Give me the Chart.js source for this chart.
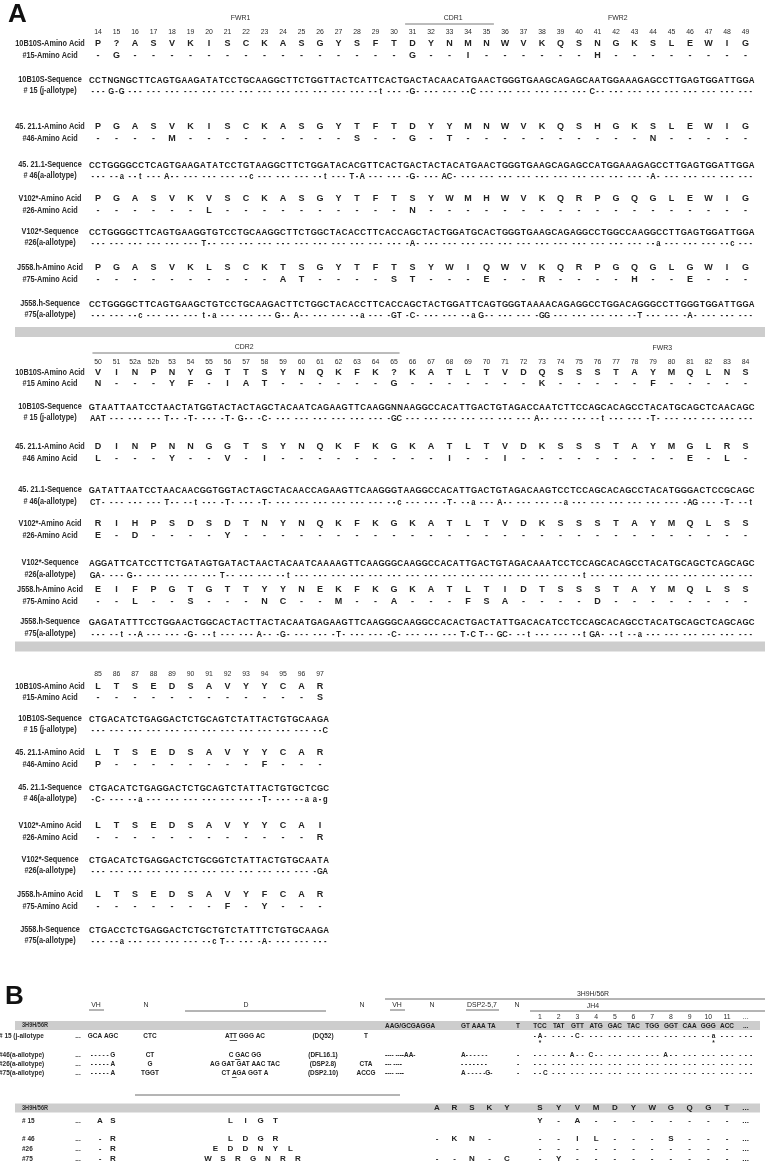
<!DOCTYPE html>
<html>
<head>
<meta charset="utf-8">
<script src="https://cdn.jsdelivr.net/npm/chart.js@4.4.1/dist/chart.umd.min.js"></script>
<style>
  html, body { margin: 0; padding: 0; background: #fff; }
  canvas { display: block; }
</style>
</head>
<body>
<canvas id="fig" width="765" height="1171"></canvas>
<script>
// ---------- panel A, block 1 : Kabat 14-49 ----------
const pos1 = ['14','15','16','17','18','19','20','21','22','23','24','25','26','27','28','29','30','31',
              '32','33','34','35','36','37','38','39','40','41','42','43','44','45','46','47','48','49'];
const aa1_10B10S = 'P?ASVKISCKASGYSF' + 'TDYNMNWVKQSNGKSLEWIG';
const aa1_15     = '-G--------------' + '-G--I------H--------';
const aa1_45211  = 'PGASVKISCKASGYTF' + 'TDYYMNWVKQSHGKSLEWIG';
const aa1_46     = '----M---------S-' + '-G-T----------N-----';
const aa1_V102   = 'PGASVKVSCKASGYTF' + 'TSYWMHWVKQRPGQGLEWIG';
const aa1_26     = '------L---------' + '-N------------------';
const aa1_J558   = 'PGASVKLSCKTSGYTF' + 'TSYWIQWVKQRPGQGLGWIG';
const aa1_75     = '----------AT----' + 'ST---E--R----H--E---';

const nt1_10B10S = 'CCT NGN GCT TCA GTG AAG ATA TCC TGC AAG GCT TCT GGT TAC TCA TTC ' +
                   'ACT GAC TAC AAC ATG AAC TGG GTG AAG CAG AGC AAT GGA AAG AGC CTT GAG TGG ATT GGA';
const nt1_15     = '--- G-G --- --- --- --- --- --- --- --- --- --- --- --- --- --t ' +
                   '--- -G- --- --- --C --- --- --- --- --- --- C-- --- --- --- --- --- --- --- ---';
const nt1_45211  = 'CCT GGG GCC TCA GTG AAG ATA TCC TGT AAG GCT TCT GGA TAC ACG TTC ' +
                   'ACT GAC TAC TAC ATG AAC TGG GTG AAG CAG AGC CAT GGA AAG AGC CTT GAG TGG ATT GGA';
const nt1_46     = '--- --a --t --- A-- --- --- --- --c --- --- --- --t --- T-A --- ' +
                   '--- -G- --- AC- --- --- --- --- --- --- --- --- --- --- -A- --- --- --- --- ---';
const nt1_V102   = 'CCT GGG GCT TCA GTG AAG GTG TCC TGC AAG GCT TCT GGC TAC ACC TTC ' +
                   'ACC AGC TAC TGG ATG CAC TGG GTG AAG CAG AGG CCT GGC CAA GGC CTT GAG TGG ATT GGA';
const nt1_26     = '--- --- --- --- --- --- T-- --- --- --- --- --- --- --- --- --- ' +
                   '--- -A- --- --- --- --- --- --- --- --- --- --- --- --- --a --- --- --- --c ---';
const nt1_J558   = 'CCT GGG GCT TCA GTG AAG CTG TCC TGC AAG ACT TCT GGC TAC ACC TTC ' +
                   'ACC AGC TAC TGG ATT CAG TGG GTA AAA CAG AGG CCT GGA CAG GGC CTT GGG TGG ATT GGA';
const nt1_75     = '--- --- --c --- --- --- t-a --- --- --- G-- A-- --- --- --a --- ' +
                   '-GT -C- --- --- --a G-- --- --- -GG --- --- --- --- --T --- --- -A- --- --- ---';

// ---------- panel A, block 2 : Kabat 50-84 ----------
const pos2 = ['50','51','52a','52b','53','54','55','56','57','58','59','60','61','62','63','64','65','66',
              '67','68','69','70','71','72','73','74','75','76','77','78','79','80','81','82','83','84'];
const aa2_10B10S = 'VINPNYGTTSYNQKFK' + '?KATLTVDQSSSTAYMQLNS';
const aa2_15     = 'N---YF-IAT------' + 'G-------K-----F-----';
const aa2_45211  = 'DINPNNGGTSYNQKFK' + 'GKATLTVDKSSSTAYMGLRS';
const aa2_46     = 'L---Y--V-I------' + '---I--I---------E-L-';
const aa2_V102   = 'RIHPSDSDTNYNQKFK' + 'GKATLTVDKSSSTAYMQLSS';
const aa2_26     = 'E-D----Y--------' + '--------------------';
const aa2_J558   = 'EIFPGTGTTYYNEKFK' + 'GKATLTIDTSSSTAYMQLSS';
const aa2_75     = '--L--S---NC--M--' + 'A---FSA----D--------';

const nt2_10B10S = 'GTA ATT AAT CCT AAC TAT GGT ACT ACT AGC TAC AAT CAG AAG TTC AAG ' +
                   'GNN AAG GCC ACA TTG ACT GTA GAC CAA TCT TCC AGC ACA GCC TAC ATG CAG CTC AAC AGC';
const nt2_15     = 'AAT --- --- --- T-- -T- --- -T- G-- -C- --- --- --- --- --- --- ' +
                   '-GC --- --- --- --- --- --- --- A-- --- --- --t --- --- -T- --- --- --- --- ---';
const nt2_45211  = 'GAT ATT AAT CCT AAC AAC GGT GGT ACT AGC TAC AAC CAG AAG TTC AAG ' +
                   'GGT AAG GCC ACA TTG ACT GTA GAC AAG TCC TCC AGC ACA GCC TAC ATG GGA CTC CGC AGC';
const nt2_46     = 'CT- --- --- --- T-- --t --- -T- --- -T- --- --- --- --- --- --- ' +
                   '--c --- --- -T- --a --- A-- --- --- --a --- --- --- --- --- --- -AG --- -T- --t';
const nt2_V102   = 'AGG ATT CAT CCT TCT GAT AGT GAT ACT AAC TAC AAT CAA AAG TTC AAG ' +
                   'GGC AAG GCC ACA TTG ACT GTA GAC AAA TCC TCC AGC ACA GCC TAC ATG CAG CTC AGC AGC';
const nt2_26     = 'GA- --- G-- --- --- --- --- T-- --- --- --t --- --- --- --- --- ' +
                   '--- --- --- --- --- --- --- --- --- --- --t --- --- --- --- --- --- --- --- ---';
const nt2_J558   = 'GAG ATA TTT CCT GGA ACT GGC ACT ACT TAC TAC AAT GAG AAG TTC AAG ' +
                   'GGC AAG GCC ACA CTG ACT ATT GAC ACA TCC TCC AGC ACA GCC TAC ATG CAG CTC AGC AGC';
const nt2_75     = '--- --t --A --- --- -G- --t --- --- A-- -G- --- --- -T- --- --- ' +
                   '-C- --- --- --- T-C T-- GC- --t --- --- --t GA- --t --a --- --- --- --- --- ---';

// ---------- panel A, block 3 : Kabat 85-97 ----------
const pos3 = ['85','86','87','88','89','90','91','92','93','94','95','96','97'];
const aa3_10B10S = 'LTSEDSAVYYCAR';
const aa3_15     = '------------S';
const aa3_45211  = 'LTSEDSAVYYCAR';
const aa3_46     = 'P--------F---';
const aa3_V102   = 'LTSEDSAVYYCAI';
const aa3_26     = '------------R';
const aa3_J558   = 'LTSEDSAVYFCAR';
const aa3_75     = '-------F-Y---';

const nt3_10B10S = 'CTG ACA TCT GAG GAC TCT GCA GTC TAT TAC TGT GCA AGA';
const nt3_15     = '--- --- --- --- --- --- --- --- --- --- --- --- --C';
const nt3_45211  = 'CTG ACA TCT GAG GAC TCT GCA GTC TAT TAC TGT GCT CGC';
const nt3_46     = '-C- --- --a --- --- --- --- --- --- -T- --- --a a-g';
const nt3_V102   = 'CTG ACA TCT GAG GAC TCT GCG GTC TAT TAC TGT GCA ATA';
const nt3_26     = '--- --- --- --- --- --- --- --- --- --- --- --- -GA';
const nt3_J558   = 'CTG ACC TCT GAG GAC TCT GCT GTC TAT TTC TGT GCA AGA';
const nt3_75     = '--- --a --- --- --- --- --c T-- --- -A- --- --- ---';

const rowNames  = ['10B10S-Amino Acid', '#15-Amino Acid', '10B10S-Sequence', '# 15 (j-allotype)',
                   '45. 21.1-Amino Acid', '#46-Amino Acid', '45. 21.1-Sequence', '# 46(a-allotype)',
                   'V102*-Amino Acid', '#26-Amino Acid', 'V102*-Sequence', '#26(a-allotype)',
                   'J558.h-Amino Acid', '#75-Amino Acid', 'J558.h-Sequence', '#75(a-allotype)'];
const rowNames2 = ['10B10S-Amino Acid', '#15 Amino Acid', '10B10S-Sequence', '# 15 (j-allotype)',
                   '45. 21.1-Amino Acid', '#46 Amino Acid', '45. 21.1-Sequence', '# 46(a-allotype)',
                   'V102*-Amino Acid', '#26-Amino Acid', 'V102*-Sequence', '#26(a-allotype)',
                   'J558.h-Amino Acid', '#75-Amino Acid', 'J558.h-Sequence', '#75(a-allotype)'];

// ---------- panel B : CDR3 / JH4 ----------
const bTopNames = ['# 15 (j-allotype', '#46(a-allotype)', '#26(a-allotype)', '#75(a-allotype)'];
const bVH    = ['GCA AGC', '- - - - - G', '- - - - - A', '- - - - - A'];
const bN1    = ['CTC', 'CT', 'G', 'TGGT'];
const bD     = ['ATT GGG AC', 'C GAC GG', 'AG GAT GAT AAC TAC', 'CT AGA GGT A'];
const bDUnder = [[1, 2], [2, 2], null, [3, 3]];
const bDGene = ['(DQ52)', '(DFL16.1)', '(DSP2.8)', '(DSP2.10)'];
const bN2    = ['T', '', 'CTA', 'ACCG'];
const bRefVHN = 'AAG/GCGAGGA', bRefDSP = 'GT AAA TA', bRefN = 'T';
const bVHN   = ['', '---- ----AA-', '--- ----', '---- ----'];
const bDSP   = ['', 'A- - - - - -', '- - - - - - -', 'A - - - - -G-'];
const bNr    = ['', '-', '-', '-'];
const jhNum  = ['1','2','3','4','5','6','7','8','9','10','11','...'];
const jhRef  = ['TCC','TAT','GTT','ATG','GAC','TAC','TGG','GGT','CAA','GGG','ACC','...'];
const jh15   = ['-A-','---','-C-','---','---','---','---','---','---','--a','---','---'];
const jh46   = ['---','---','A--','C--','---','---','---','A--','---','---','---','---'];
const jh26   = ['---','---','---','---','---','---','---','---','---','---','---','---'];
const jh75   = ['--C','---','---','---','---','---','---','---','---','---','---','---'];
const jhStarCodon = [0, 9], jhStarNt = [1, 2];

const bAANames  = ['# 15', '# 46', '#26', '#75'];
const bAAvh     = [['A','S'], ['-','R'], ['-','R'], ['-','R']];
const bAAcdr3   = [['L','I','G','T'], ['L','D','G','R'], ['E','D','D','N','Y','L'], ['W','S','R','G','N','R','R']];
const bAAmidRef = ['A','R','S','K','Y'];
const bAAmid    = [[], ['-','K','N','-'], [], ['-','-','N','-','C']];
const jhAARef   = ['S','Y','V','M','D','Y','W','G','Q','G','T','...'];
const jhAA15    = ['Y','-','A','-','-','-','-','-','-','-','-','...'];
const jhAA46    = ['-','-','I','L','-','-','-','S','-','-','-','...'];
const jhAA26    = ['-','-','-','-','-','-','-','-','-','-','-','...'];
const jhAA75    = ['-','Y','-','-','-','-','-','-','-','-','-','...'];

// ---------- layout (page pixels) ----------
const W = 765, H = 1171;
const COL_X0 = 98, COL_DX = 18.5;      // residue column grid of panel A
const SQ_REF = 1.0, SQ_MUT = 0.85;     // spacing of the nucleotides inside a codon
const LABEL_X = 50;
const A_ROWS = [
  { num: 32,  rows: [[44,56,80,91], [127,139,165,176], [199,211,232,243], [268,280,304,315]] },
  { num: 362, rows: [[373,384,407,418], [447,459,490,502], [524,536,563,575], [590,602,622,634]] },
  { num: 674, rows: [[687,698,719,730], [753,765,788,799], [826,838,860,871], [895,907,930,941]] }
];
const BARS_A = [332, 646.5];
const B_X = { label: -1, dots: 78, vh: 103, n1: 150, d: 245, dgene: 323, n2: 366,
              vhn: 385, dsp: 461, nr: 518, jh0: 540, jhStep: 18.7,
              aaVH: [100, 113], cdr3: 253, cdr3Step: 15, mid0: 437, midStep: 17.5 };
const B_Y = { big: 997, top: 994, topLine: 999, hdr: 1005, uline: 1010, nums: 1017, bar1: 1025.5,
              rows: [1036, 1055, 1064, 1073], star: 1043, midLine: 1095, bar2: 1108,
              aaRows: [1121, 1139, 1149, 1159] };

const SANS = '"Liberation Sans", Arial, sans-serif';
const STYLES = {
  big:   { font: 'bold 26px ' + SANS, sx: 1, align: 'left', color: '#111' },
  hdr:   { font: '7.5px ' + SANS, sx: 0.92, color: '#2a2a2a' },
  num:   { font: '7.5px ' + SANS, sx: 0.92, color: '#2a2a2a' },
  label: { font: 'bold 8.5px ' + SANS, sx: 0.86, color: '#2a2a2a' },
  aa:    { font: 'bold 9px ' + SANS, sx: 1, color: '#222' },
  nt:    { font: 'bold 9.5px ' + SANS, sx: 0.84, color: '#1a1a1a' },
  ntm:   { font: 'bold 9.5px ' + SANS, sx: 0.8, color: '#1a1a1a' },
  bLab:  { font: 'bold 7.5px ' + SANS, sx: 0.86, color: '#2a2a2a', align: 'left' },
  bTxt:  { font: 'bold 7.5px ' + SANS, sx: 0.86, color: '#222' },
  bLeft: { font: 'bold 7.5px ' + SANS, sx: 0.86, color: '#222', align: 'left' },
  bBar:  { font: 'bold 6.5px ' + SANS, sx: 0.86, color: '#333', align: 'left' },
  bHdr:  { font: '7.5px ' + SANS, sx: 0.92, color: '#2a2a2a' },
  bAA:   { font: 'bold 8px ' + SANS, sx: 1, color: '#222' }
};

// ---------- build datasets ----------
const datasets = [];
function addText(points, style, axis) {
  datasets.push({ data: points, textStyle: style, xAxisID: axis, yAxisID: 'y',
                  pointRadius: 0, showLine: false });
}
function addLine(x1, x2, y, axis, color, width) {
  datasets.push({ data: [{ x: x1, y: y }, { x: x2, y: y }], xAxisID: axis, yAxisID: 'y',
                  showLine: true, pointRadius: 0, borderColor: color, borderWidth: width,
                  borderCapStyle: 'butt' });
}
function aaPoints(str, y, n) {
  if (str.length !== n) throw new Error('length ' + str.length + ' != ' + n + ': ' + str);
  return str.split('').map((c, i) => ({ x: i, y: y, t: c }));
}
function ntPoints(codons, y, n, squeeze) {
  const cs = Array.isArray(codons) ? codons : codons.split(' ');
  if (cs.length !== n) throw new Error('codons ' + cs.length + ' != ' + n + ': ' + codons);
  const pts = [];
  cs.forEach((cod, i) => cod.split('').forEach((c, k) => {
    pts.push({ x: i + (k - 1) / 3 * squeeze, y: y, t: c });
  }));
  return pts;
}

const blocks = [
  { pos: pos1, names: rowNames,
    aa: [aa1_10B10S, aa1_15, aa1_45211, aa1_46, aa1_V102, aa1_26, aa1_J558, aa1_75],
    nt: [nt1_10B10S, nt1_15, nt1_45211, nt1_46, nt1_V102, nt1_26, nt1_J558, nt1_75] },
  { pos: pos2, names: rowNames2,
    aa: [aa2_10B10S, aa2_15, aa2_45211, aa2_46, aa2_V102, aa2_26, aa2_J558, aa2_75],
    nt: [nt2_10B10S, nt2_15, nt2_45211, nt2_46, nt2_V102, nt2_26, nt2_J558, nt2_75] },
  { pos: pos3, names: rowNames,
    aa: [aa3_10B10S, aa3_15, aa3_45211, aa3_46, aa3_V102, aa3_26, aa3_J558, aa3_75],
    nt: [nt3_10B10S, nt3_15, nt3_45211, nt3_46, nt3_V102, nt3_26, nt3_J558, nt3_75] }
];

// grey separators
BARS_A.forEach(y => addLine(15, W, y, 'xB', '#cdcdcd', 10));
addLine(15, 760, B_Y.bar1, 'xB', '#cdcdcd', 9);
addLine(15, 760, B_Y.bar2, 'xB', '#cdcdcd', 9);

blocks.forEach((b, bi) => {
  const lay = A_ROWS[bi], n = b.pos.length;
  addText(b.pos.map((p, i) => ({ x: i, y: lay.num, t: p })), 'num', 'xA');
  lay.rows.forEach((ys, g) => {
    addText(aaPoints(b.aa[2 * g], ys[0], n), 'aa', 'xA');
    addText(aaPoints(b.aa[2 * g + 1], ys[1], n), 'aa', 'xA');
    addText(ntPoints(b.nt[2 * g], ys[2], n, SQ_REF), 'nt', 'xA');
    addText(ntPoints(b.nt[2 * g + 1], ys[3], n, SQ_MUT), 'ntm', 'xA');
    addText(ys.map((y, r) => ({ x: LABEL_X, y: y, t: b.names[4 * g + r] })), 'label', 'xB');
  });
});

// region headers of panel A
addText([{ x: 8, y: 15, t: 'A' }], 'big', 'xB');
addText([{ x: 7.7, y: 18, t: 'FWR1' }, { x: 19.2, y: 18, t: 'CDR1' }, { x: 28.1, y: 18, t: 'FWR2' }], 'hdr', 'xA');
addLine(16.6, 21.4, 24, 'xA', '#555', 0.8);
addText([{ x: 7.9, y: 347, t: 'CDR2' }, { x: 30.5, y: 348, t: 'FWR3' }], 'hdr', 'xA');
addLine(-0.3, 16.3, 353, 'xA', '#555', 0.8);

// panel B, headers
addText([{ x: 5, y: B_Y.big, t: 'B' }], 'big', 'xB');
addText([{ x: 96, y: B_Y.hdr, t: 'VH' }, { x: 146, y: B_Y.hdr, t: 'N' }, { x: 246, y: B_Y.hdr, t: 'D' },
         { x: 362, y: B_Y.hdr, t: 'N' }, { x: 397, y: B_Y.hdr, t: 'VH' }, { x: 432, y: B_Y.hdr, t: 'N' },
         { x: 482, y: B_Y.hdr, t: 'DSP2-5,7' }, { x: 517, y: B_Y.hdr, t: 'N' },
         { x: 593, y: B_Y.top, t: '3H9H/56R' }, { x: 593, y: B_Y.hdr + 1, t: 'JH4' }], 'bHdr', 'xB');
addLine(89, 104, B_Y.uline, 'xB', '#444', 0.8);
addLine(185, 326, B_Y.uline + 1, 'xB', '#444', 0.8);
addLine(390, 405, B_Y.uline, 'xB', '#444', 0.8);
addLine(466, 499, B_Y.uline, 'xB', '#444', 0.8);
addLine(385, W, B_Y.topLine, 'xB', '#444', 0.8);
addLine(530, W, B_Y.uline + 1, 'xB', '#444', 0.8);
addText(jhNum.map((t, i) => ({ x: i, y: B_Y.nums, t: t })), 'bHdr', 'xJ');

// panel B, nucleotide rows
addText([{ x: 22, y: B_Y.bar1, t: '3H9H/56R' }], 'bBar', 'xB');
addText([{ x: B_X.vhn, y: B_Y.bar1, t: bRefVHN }, { x: B_X.dsp, y: B_Y.bar1, t: bRefDSP }], 'bLeft', 'xB');
addText([{ x: B_X.nr, y: B_Y.bar1, t: bRefN }], 'bTxt', 'xB');
addText(jhRef.map((t, i) => ({ x: i, y: B_Y.bar1, t: t })), 'bTxt', 'xJ');
const jhRows = [jh15, jh46, jh26, jh75];
B_Y.rows.forEach((y, r) => {
  addText([{ x: B_X.label, y: y, t: bTopNames[r] }], 'bLab', 'xB');
  addText([{ x: B_X.dots, y: y, t: '...' }, { x: B_X.vh, y: y, t: bVH[r] },
           { x: B_X.n1, y: y, t: bN1[r] }, { x: B_X.d, y: y, t: bD[r], under: bDUnder[r] },
           { x: B_X.dgene, y: y, t: bDGene[r] }, { x: B_X.n2, y: y, t: bN2[r] },
           { x: B_X.nr, y: y, t: bNr[r] }], 'bTxt', 'xB');
  addText([{ x: B_X.vhn, y: y, t: bVHN[r] }, { x: B_X.dsp, y: y, t: bDSP[r] }], 'bLeft', 'xB');
  addText(ntPoints(jhRows[r], y, 12, 0.85), 'bTxt', 'xJ');
});
addText(jhStarCodon.map((c, i) => ({ x: c + (jhStarNt[i] - 1) / 3 * 0.85, y: B_Y.star, t: '*' })), 'bTxt', 'xJ');

// panel B, amino acid rows
addLine(135, 400, B_Y.midLine, 'xB', '#444', 0.8);
addText([{ x: 22, y: B_Y.bar2, t: '3H9H/56R' }], 'bBar', 'xB');
addText(bAAmidRef.map((t, i) => ({ x: B_X.mid0 + i * B_X.midStep, y: B_Y.bar2, t: t })), 'bAA', 'xB');
addText(jhAARef.map((t, i) => ({ x: i, y: B_Y.bar2, t: t })), 'bAA', 'xJ');
const jhAARows = [jhAA15, jhAA46, jhAA26, jhAA75];
B_Y.aaRows.forEach((y, r) => {
  addText([{ x: 22, y: y, t: bAANames[r] }], 'bLab', 'xB');
  addText([{ x: B_X.dots, y: y, t: '...' }], 'bTxt', 'xB');
  const cdr = bAAcdr3[r];
  addText(bAAvh[r].map((t, i) => ({ x: B_X.aaVH[i], y: y, t: t }))
    .concat(cdr.map((t, i) => ({ x: B_X.cdr3 + (i - (cdr.length - 1) / 2) * B_X.cdr3Step, y: y, t: t })))
    .concat(bAAmid[r].map((t, i) => ({ x: B_X.mid0 + i * B_X.midStep, y: y, t: t }))), 'bAA', 'xB');
  addText(jhAARows[r].map((t, i) => ({ x: i, y: y, t: t })), 'bAA', 'xJ');
});

// ---------- text drawing plugin ----------
function drawText(ctx, text, x, y, st, under) {
  if (!text) return;
  ctx.save();
  ctx.font = st.font;
  ctx.fillStyle = st.color || '#111';
  ctx.textBaseline = 'middle';
  ctx.textAlign = 'left';
  const sx = st.sx || 1;
  const w = ctx.measureText(text).width * sx;
  let left = x - w / 2;
  if (st.align === 'left') left = x;
  if (st.align === 'right') left = x - w;
  ctx.translate(left, y);
  ctx.scale(sx, 1);
  ctx.fillText(text, 0, 0);
  if (under) {
    const a = ctx.measureText(text.slice(0, under[0])).width;
    const b = ctx.measureText(text.slice(0, under[1] + 1)).width;
    ctx.fillRect(a, 4, b - a, 0.8);
  }
  ctx.restore();
}

const seqTextPlugin = {
  id: 'seqText',
  afterDatasetsDraw(chart) {
    const ctx = chart.ctx;
    chart.data.datasets.forEach((ds, i) => {
      if (!ds.textStyle) return;
      const st = STYLES[ds.textStyle];
      chart.getDatasetMeta(i).data.forEach((el, j) => {
        const p = ds.data[j];
        drawText(ctx, p.t, el.x, el.y, st, p.under);
      });
    });
  }
};

const ctx = document.getElementById('fig').getContext('2d');
new Chart(ctx, {
  type: 'scatter',
  data: { datasets: datasets },
  options: {
    responsive: false,
    animation: false,
    devicePixelRatio: 1,
    layout: { padding: 0 },
    events: [],
    plugins: { legend: { display: false }, tooltip: { enabled: false } },
    scales: {
      x:  { type: 'linear', axis: 'x', display: false, min: 0, max: W },
      xB: { type: 'linear', axis: 'x', display: false, min: 0, max: W },
      xA: { type: 'linear', axis: 'x', display: false, min: -COL_X0 / COL_DX, max: (W - COL_X0) / COL_DX },
      xJ: { type: 'linear', axis: 'x', display: false, min: -B_X.jh0 / B_X.jhStep, max: (W - B_X.jh0) / B_X.jhStep },
      y:  { type: 'linear', display: false, min: 0, max: H, reverse: true }
    }
  },
  plugins: [seqTextPlugin]
});
</script>
</body>
</html>
